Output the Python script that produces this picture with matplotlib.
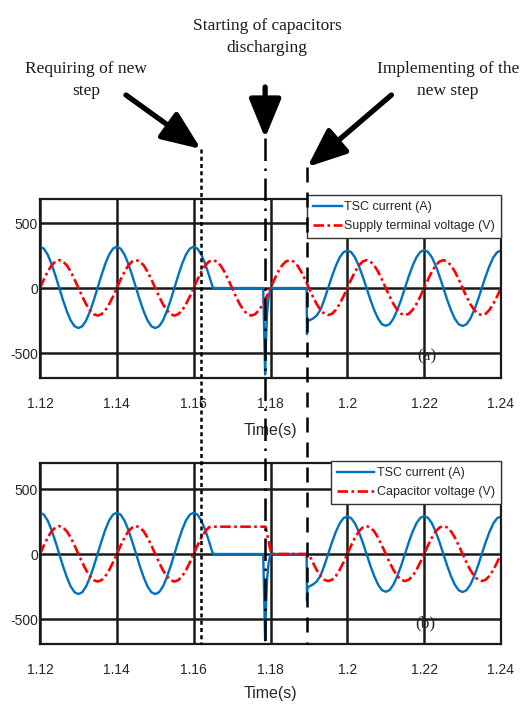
import numpy as np
import matplotlib
matplotlib.use("Agg")
import matplotlib.pyplot as plt
import matplotlib.transforms as mtransforms
from matplotlib.lines import Line2D
from matplotlib import font_manager

plt.rcParams["axes.unicode_minus"] = False

# ---- data (1 ms samples unless noted) ----
t0 = 1.12
t_step = 0.001

# supply terminal voltage, 1.120 .. 1.240 s
supply_v = [
    0, 66, 126, 174, 204, 215, 204, 174, 126, 66, 0, -65, -124, -171, -201, -212, -201, -171, -124, -65,
    0, 66, 126, 174, 204, 215, 204, 174, 126, 66, 0, -65, -124, -171, -201, -212, -201, -171, -124, -65,
    0, 66, 126, 174, 204, 215, 204, 174, 126, 66, 0, -65, -124, -171, -201, -212, -201, -171, -124, -65,
    0, 66, 126, 174, 204, 215, 204, 174, 126, 66, 0, -64, -122, -168, -198, -208, -198, -168, -122, -64,
    0, 66, 126, 174, 204, 215, 204, 174, 126, 66, 0, -64, -122, -168, -198, -208, -198, -168, -122, -64,
    0, 66, 126, 174, 204, 215, 204, 174, 126, 66, 0, -64, -122, -168, -198, -208, -198, -168, -122, -64,
    0]

# TSC current, 1.120 .. 1.165 s
cur_a = [318, 303, 257, 186, 97, 2, -94, -180, -250, -294, -308, -294, -250, -180, -94, 3, 98, 187, 258, 303,
         318, 303, 257, 186, 97, 2, -94, -180, -250, -294, -308, -294, -250, -180, -94, 3, 98, 187, 258, 303,
         318, 303, 257, 186, 97, 2]
# TSC current around the discharge / switching instants (irregular times)
cur_mid_t = [1.1660, 1.1781, 1.1784, 1.1786, 1.1788, 1.1791, 1.1795, 1.1800, 1.1894, 1.1895, 1.1896]
cur_mid = [0, 0, -400, -665, -420, -200, -70, 0, 0, -355, -262]
# TSC current, 1.190 .. 1.240 s
cur_b = [-250, -236, -212, -168, -90, 0, 90, 170, 235, 276,
         288, 276, 235, 170, 90, 0, -90, -170, -235, -278,
         -290, -278, -235, -170, -90, 0, 91, 172, 237, 278,
         292, 278, 237, 172, 91, 0, -91, -172, -237, -279,
         -292, -279, -237, -172, -91, 0, 90, 170, 235, 276,
         288]

# capacitor voltage, 1.120 .. 1.165 s
cap_a = [0, 66, 126, 174, 204, 215, 204, 174, 126, 66, 0, -65, -124, -171, -201, -212, -201, -171, -124, -65,
         0, 66, 126, 174, 204, 215, 204, 174, 126, 66, 0, -65, -124, -171, -201, -212, -201, -171, -124, -65,
         0, 66, 126, 174, 206, 210]
cap_mid_t = [1.1787, 1.1802, 1.1895]
cap_mid = [210, 0, 0]
# capacitor voltage, 1.190 .. 1.240 s
cap_b = [0, -64, -122, -168, -198, -208, -198, -168, -122, -64,
         0, 66, 126, 174, 204, 215, 204, 174, 126, 66,
         0, -64, -122, -168, -198, -208, -198, -168, -122, -64,
         0, 66, 126, 174, 204, 215, 204, 174, 126, 66,
         0, -64, -122, -168, -198, -208, -198, -168, -122, -64,
         0]
t_b0 = 1.19

# event instants: requiring of new step, start of discharge, implementing
event_t = [1.1619, 1.1786, 1.1896]
event_labels = ["Requiring of new\nstep", "Starting of capacitors\ndischarging",
                "Implementing of the\nnew step"]

xticks = [1.12, 1.14, 1.16, 1.18, 1.2, 1.22, 1.24]
xticklabels = ["1.12", "1.14", "1.16", "1.18", "1.2", "1.22", "1.24"]
yticks = [-500, 0, 500]

# ---- build time axes ----
t_sup = t0 + t_step * np.arange(len(supply_v))
t_cur = np.concatenate([t0 + t_step * np.arange(len(cur_a)), cur_mid_t,
                        t_b0 + t_step * np.arange(len(cur_b))])
i_cur = np.concatenate([cur_a, cur_mid, cur_b])
t_cap = np.concatenate([t0 + t_step * np.arange(len(cap_a)), cap_mid_t,
                        t_b0 + t_step * np.arange(len(cap_b))])
v_cap = np.concatenate([cap_a, cap_mid, cap_b])

# ---- fonts ----
installed = {f.name for f in font_manager.fontManager.ttflist}
if "Liberation Sans Narrow" in installed:
    sans, k = "Liberation Sans Narrow", 1.2
else:
    sans, k = "Liberation Sans", 1.0
serif = "Liberation Serif"

W, H = 522, 706
fig = plt.figure(figsize=(W / 100, H / 100), dpi=100)

BLUE = "#0072BD"
RED = "#FF0000"
GRID = "#1a1a1a"
TXT = "#262626"


def px_box(left, top, right, bottom):
    return [left / W, 1 - bottom / H, (right - left) / W, (bottom - top) / H]


ax1 = fig.add_axes(px_box(40, 199, 501, 378))
ax2 = fig.add_axes(px_box(40, 463, 501, 644))


def style(ax, ylim, labelpad):
    ax.set_xlim(1.12, 1.24)
    ax.set_ylim(*ylim)
    ax.set_xticks(xticks)
    ax.set_xticklabels(xticklabels)
    ax.set_yticks(yticks)
    ax.grid(True, color=GRID, lw=1.8)
    ax.set_axisbelow(True)
    for s in ax.spines.values():
        s.set_linewidth(1.6)
        s.set_color(GRID)
    ax.tick_params(axis="x", length=0, pad=13.5, labelsize=10 * k, labelcolor=TXT)
    ax.tick_params(axis="y", length=0, pad=1.5, labelsize=10 * k, labelcolor=TXT)
    for lab in ax.get_xticklabels() + ax.get_yticklabels():
        lab.set_family(sans)
    ax.set_xlabel("Time(s)", family=sans, fontsize=11.5 * k, color=TXT, labelpad=labelpad)


red_dash = (0, (4, 1.3, 1, 1.3))

ax1.plot(t_cur, i_cur, color=BLUE, lw=1.7, label="TSC current (A)")
ax1.plot(t_sup, supply_v, color=RED, lw=1.9, ls=red_dash, label="Supply terminal voltage (V)")
style(ax1, (-692, 685), 8.5)

ax2.plot(t_cur, i_cur, color=BLUE, lw=1.7, label="TSC current (A)")
ax2.plot(t_cap, v_cap, color=RED, lw=1.9, ls=red_dash, label="Capacitor voltage (V)")
style(ax2, (-692, 700), 6.5)

for ax, anchor_y, hlen in [(ax1, 1 + 4 / 179, 2.3), (ax2, 1 + 2 / 181, 3.0)]:
    leg = ax.legend(loc="upper right", bbox_to_anchor=(1.0, anchor_y), borderaxespad=0,
                    fancybox=False, framealpha=1, edgecolor="#333333",
                    prop={"family": sans, "size": 9 * k},
                    handlelength=hlen, handletextpad=0.2, labelspacing=0.55, borderpad=0.5)
    leg.get_frame().set_linewidth(1.0)
    for txt in leg.get_texts():
        txt.set_color(TXT)

ax1.text(0.8395, 0.123, "(a)", transform=ax1.transAxes, ha="center", va="center",
         family=serif, fontsize=12.5, color=TXT)
ax2.text(0.835, 0.116, "(b)", transform=ax2.transAxes, ha="center", va="center",
         family=serif, fontsize=12.5, color=TXT)

# ---- event lines spanning both panels, with arrows and captions ----
tr = mtransforms.blended_transform_factory(ax1.transData, fig.transFigure)
line_top = [149, 138, 167]
line_style = [(0, (1.6, 1.3)), (0, (9, 3, 1, 3)), (0, (6, 4))]
arrow_tail = [(-75, 54), (0, 51), (84, 72)]
label_pos = [(86, 80), (267, 37), (448, 80)]

for t, top, ls, tail, lab, pos in zip(event_t, line_top, line_style, arrow_tail,
                                     event_labels, label_pos):
    fig.add_artist(Line2D([t, t], [1 - top / H, 1 - 644 / H], transform=tr,
                          color="k", lw=1.8, ls=ls))
    ax1.annotate("", xy=(t, 1 - top / H), xycoords=tr, xytext=tail,
                 textcoords="offset pixels", annotation_clip=False,
                 arrowprops=dict(arrowstyle="-|>,head_length=1.7,head_width=0.7",
                                 mutation_scale=14, lw=3.8, color="k",
                                 shrinkA=0, shrinkB=0))
    fig.text(pos[0] / W, 1 - pos[1] / H, lab, ha="center", va="center",
             family=serif, fontsize=12.5, linespacing=1.45, color="#1a1a1a")

fig.savefig("out.png", dpi=100)
